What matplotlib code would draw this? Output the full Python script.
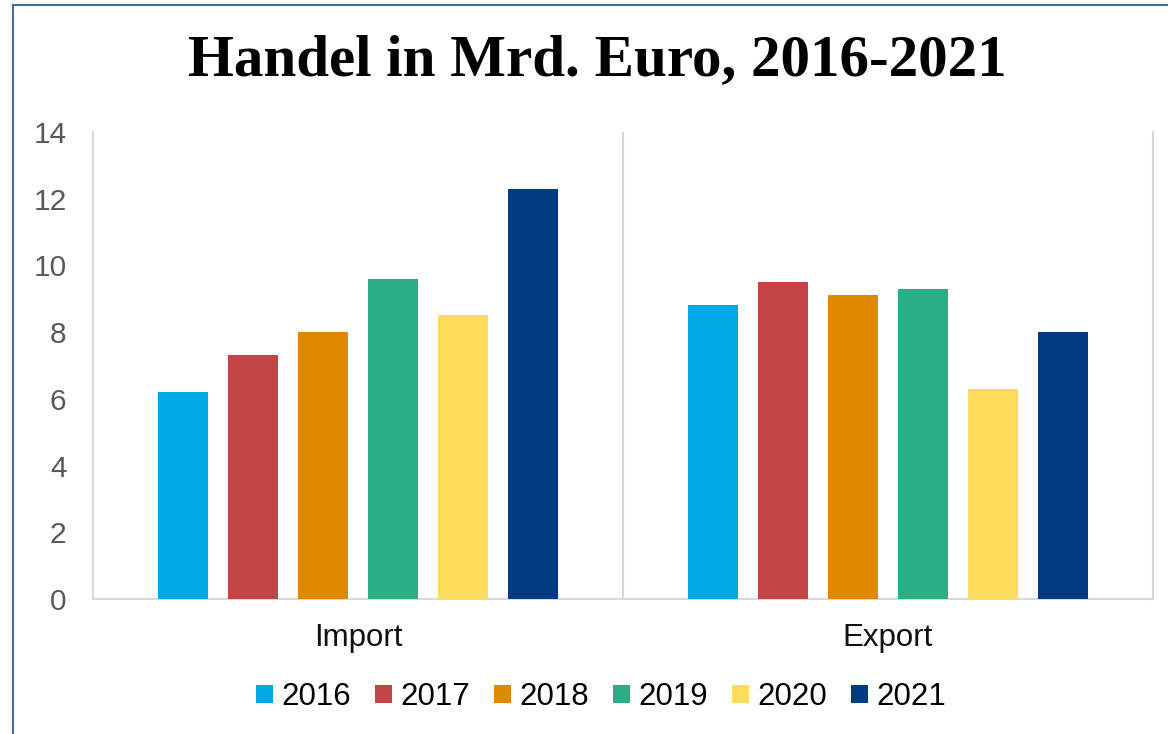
import numpy as np
import matplotlib.pyplot as plt
from matplotlib.lines import Line2D

# ---------- DATA ----------
categories = ["Import", "Export"]
years = ["2016", "2017", "2018", "2019", "2020", "2021"]
v2016 = [6.2, 8.8]
v2017 = [7.3, 9.5]
v2018 = [8.0, 9.1]
v2019 = [9.6, 9.3]
v2020 = [8.5, 6.3]
v2021 = [12.3, 8.0]
series = [v2016, v2017, v2018, v2019, v2020, v2021]
colors = ["#00A9E3", "#C44446", "#DF8800", "#2AAE86", "#FFDC5C", "#003A80"]

# ---------- FIGURE ----------
fig = plt.figure(figsize=(11.68, 7.34), dpi=100)
ax = fig.add_axes([93 / 1168, 1 - 599 / 734, (1153 - 93) / 1168, (599 - 132) / 734])

x = np.arange(len(categories))
step = 0.132
width = 0.094
for i, (vals, col) in enumerate(zip(series, colors)):
    ax.bar(x + (i - 2.5) * step, vals, width=width, color=col, label=years[i], zorder=3)

ax.set_xlim(-0.5, 1.5)
ax.set_ylim(0, 14)
ax.set_yticks(range(0, 15, 2))
ax.set_xticks(x)
ax.set_xticklabels(categories, fontsize=22.5, color="#111111", family="Liberation Sans")
ax.tick_params(axis="x", length=0, pad=17)
ax.tick_params(axis="y", length=0, pad=19, labelsize=21.5, labelcolor="#595959")
for lab in ax.get_yticklabels():
    lab.set_family("Liberation Sans")

ax.spines["top"].set_visible(False)
for s in ["left", "right", "bottom"]:
    ax.spines[s].set_color("#D9D9D9")
    ax.spines[s].set_linewidth(1.5)
ax.axvline(0.5, color="#D9D9D9", linewidth=1.5, zorder=1)

# title
fig.text(597 / 1168, 1 - 61 / 734, "Handel in Mrd. Euro, 2016-2021", ha="center", va="center",
         fontsize=42.5, fontweight="bold", family="Liberation Serif")

# legend
leg = fig.legend(loc="center", bbox_to_anchor=(601 / 1168, 1 - 697 / 734), ncol=6, frameon=False,
                 prop={"family": "Liberation Sans", "size": 22.5}, handlelength=0.55, handleheight=0.55,
                 handletextpad=0.25, columnspacing=0.78)

# border lines of the chart area (left and top)
fig.add_artist(Line2D([13 / 1168, 13 / 1168], [0, 1 - 5 / 734], transform=fig.transFigure,
                      color="#4A6A9A", linewidth=1.5))
fig.add_artist(Line2D([13 / 1168, 1], [1 - 5 / 734, 1 - 5 / 734], transform=fig.transFigure,
                      color="#4A6A9A", linewidth=1.5))

fig.savefig("out.png", dpi=100)
